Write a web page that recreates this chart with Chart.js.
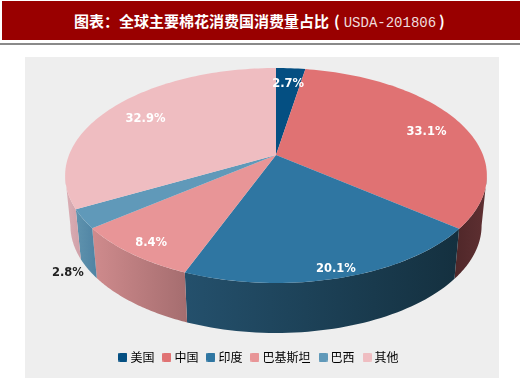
<!DOCTYPE html>
<html><head><meta charset="utf-8">
<script src="https://cdn.jsdelivr.net/npm/chart.js@4"></script>
<style>
html,body{margin:0;padding:0;background:#fff;width:520px;height:383px;overflow:hidden}
#head{position:absolute;left:2px;top:1px;width:518px;height:39px;background:#990000;color:#fff;font:bold 15px "Noto Sans CJK SC",sans-serif;line-height:39px;white-space:nowrap}
#head span{position:absolute;top:0}
#t1{left:72px}
#t2{left:332px}
#t2 i{font:14px "Liberation Mono",monospace;font-style:normal;color:#f0dcdc;margin:0 3px 0 4px}
#rule{position:absolute;left:0;top:43px;width:520px;height:2px;background:#8a8a8a}
#panel{position:absolute;left:25px;top:57px;width:474px;height:321px;background:#eeeeee}
canvas{position:absolute;left:0;top:0;filter:blur(0.35px)}
</style></head>
<body>
<div id="head"><span id="t1">图表：全球主要棉花消费国消费量占比</span><span id="t2">(<i>USDA-201806</i>)</span></div>
<div id="rule"></div><div id="panel"></div>
<canvas id="c" width="520" height="383"></canvas>
<script>
const categories = ['美国','中国','印度','巴基斯坦','巴西','其他'];
const shares = [2.7,33.1,20.1,8.4,2.8,32.9];
const shareLabels = ['2.7%','33.1%','20.1%','8.4%','2.8%','32.9%'];
const faceColors = ['#044f82','#e07273','#2f76a2','#e89597','#6099b9','#efbdc1'];
const wallColors = [['#033','#033'],['#4f2729','#5f3032'],['#24506c','#14303f'],['#cf8b8d','#a56d6f'],['#5f93ae','#4f83a3'],['#dcb0b6','#d0a0a8']];
const labelRadius = [0.8,0.82,0.93,0.88,1.07,0.79];
const labelColors = ['#fff','#fff','#fff','#fff','#222','#fff'];
const labelDrop = [1,5,2,3,49,3];

const P = {cx:276,cy:155,a:207,b:74,k:-0.1907,depth:50,baseScale:0.975};
function proj(theta,r,wall){
  const u=r*Math.sin(theta), v=-r*Math.cos(theta), d=1+P.k*v;
  const dx=P.a*u/d, y=(P.cy+P.b*v)/d;
  return wall ? [P.cx+dx*P.baseScale,y+P.depth] : [P.cx+dx,y];
}
const WALL_MIN=Math.PI*101/180, WALL_MAX=Math.PI*259/180;

class Arc3D extends Chart.ArcElement{
  static id='arc3d';
  draw(ctx){
    const s=this.startAngle+Math.PI/2, e=this.endAngle+Math.PI/2;
    const i=this.$context?this.$context.dataIndex:0;
    const a=Math.max(s,WALL_MIN), b=Math.min(e,WALL_MAX);
    ctx.save();
    if(b>a){
      const n=48,top=[],bot=[];
      for(let j=0;j<=n;j++){const t=a+(b-a)*j/n;top.push(proj(t,1));bot.push(proj(t,1,true));}
      const xs=top.concat(bot).map(p=>p[0]);
      const x0=Math.min(...xs),x1=Math.max(...xs);
      const g=ctx.createLinearGradient(x0,0,x1,0);
      g.addColorStop(0,wallColors[i][0]);g.addColorStop(1,wallColors[i][1]);
      ctx.beginPath();
      top.forEach((p,j)=>j?ctx.lineTo(p[0],p[1]):ctx.moveTo(p[0],p[1]));
      bot.reverse().forEach(p=>ctx.lineTo(p[0],p[1]));
      ctx.closePath();ctx.fillStyle=g;ctx.fill();
    }
    ctx.beginPath();
    const c=proj(0,0);ctx.moveTo(c[0],c[1]);
    const n=Math.max(8,Math.ceil((e-s)*40));
    for(let j=0;j<=n;j++){const p=proj(s+(e-s)*j/n,1);ctx.lineTo(p[0],p[1]);}
    ctx.closePath();ctx.fillStyle=this.options.backgroundColor;ctx.fill();
    ctx.restore();
  }
}
class Pie3D extends Chart.PieController{
  static id='pie3d';
  static defaults={...Chart.PieController.defaults,dataElementType:'arc3d'};
  static overrides=Chart.PieController.overrides;
}
Chart.register(Arc3D,Pie3D);

function swatch(color){
  const c=document.createElement('canvas');c.width=9;c.height=9;
  const x=c.getContext('2d');x.fillStyle=color;x.beginPath();x.roundRect(0,0,9,9,1.5);x.fill();return c;
}
const labelPlugin={id:'sliceLabels',afterDatasetsDraw(chart){
  const ctx=chart.ctx,arcs=chart.getDatasetMeta(0).data;
  ctx.save();ctx.font='bold 11.5px "DejaVu Sans",sans-serif';ctx.textAlign='center';ctx.textBaseline='middle';
  arcs.forEach((el,i)=>{
    const mid=(el.startAngle+el.endAngle)/2+Math.PI/2,p=proj(mid,labelRadius[i]);
    ctx.fillStyle=labelColors[i];ctx.fillText(shareLabels[i],p[0],p[1]+labelDrop[i]);
  });
  ctx.restore();
}};
new Chart(document.getElementById('c'),{
  type:'pie3d',
  data:{labels:categories,datasets:[{data:shares,backgroundColor:faceColors,borderWidth:0}]},
  plugins:[labelPlugin],
  options:{
    responsive:false,animation:false,
    layout:{padding:{top:0,bottom:10,left:0,right:0}},
    plugins:{
      tooltip:{enabled:false},
      title:{display:false},
      legend:{display:true,position:'bottom',
        labels:{usePointStyle:true,pointStyleWidth:3,boxHeight:9,padding:11,color:'#333',
          font:{family:'"Noto Sans CJK SC",sans-serif',size:12},
          generateLabels(){return categories.map((t,i)=>({text:t,index:i,pointStyle:swatch(faceColors[i]),fillStyle:faceColors[i],lineWidth:0,strokeStyle:'transparent',hidden:false}));}
        }}
    }
  }
});
</script>
</body></html>
